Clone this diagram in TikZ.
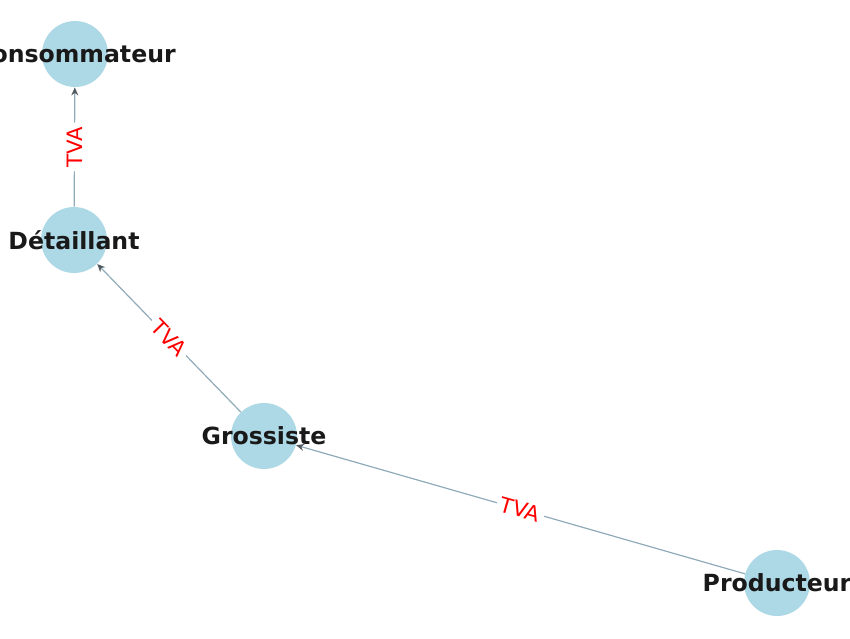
\documentclass[tikz,border=0pt]{standalone}
\usepackage{fontspec}
\setmainfont{DejaVu Sans}
\usetikzlibrary{arrows.meta}
\usetikzlibrary{positioning}
\definecolor{noeud}{HTML}{ADD8E6}
\definecolor{arete}{HTML}{8FAAB8}
\definecolor{pointe}{HTML}{505A60}
\tikzset{
  acteur/.style={circle,fill=noeud,draw=none,minimum size=33pt,inner sep=0pt},
  nom/.style={font=\fontsize{11.8}{13}\selectfont\bfseries,text=black!90},
  flux/.style={draw=arete,line width=0.6pt,-{Stealth[length=4pt,width=3.5pt,color=pointe]}},
  taxe/.style={font=\fontsize{10.6}{12}\selectfont,text=red,fill=white,inner sep=2pt}
}
\begin{document}
\begin{tikzpicture}[x=0.5pt,y=-0.5pt]
\useasboundingbox (0,0) rectangle (850,638);

\node[acteur] (C) at (75,54) {};
\node[acteur] (D) at (74,240) {};
\node[acteur] (G) at (264,436) {};
\node[acteur] (P) at (777,583) {};

\draw[flux] (P) -- (G) node[taxe,midway,sloped] {TVA};
\draw[flux] (G) -- (D) node[taxe,midway,sloped] {TVA};
\draw[flux] (D) -- (C) node[taxe,midway,sloped] {TVA};

\node[nom] at (C) {Consommateur};
\node[nom] at (D) {Détaillant};
\node[nom] at (G) {Grossiste};
\node[nom] at (P) {Producteur};

\end{tikzpicture}
\end{document}
